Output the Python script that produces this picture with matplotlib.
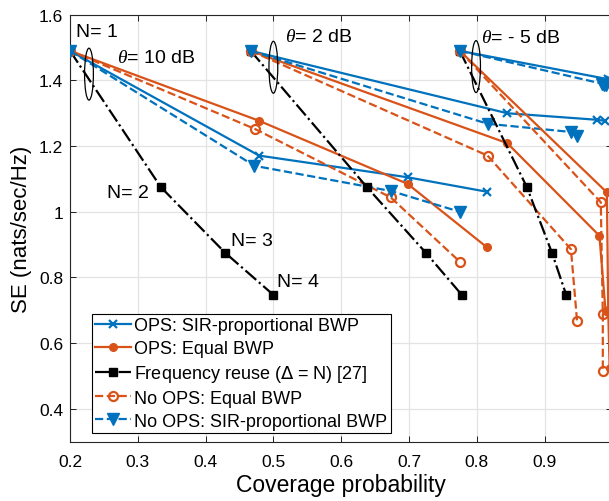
import matplotlib
matplotlib.use("Agg")
import matplotlib.pyplot as plt
from matplotlib.patches import Ellipse

plt.rcParams['font.family'] = ['Liberation Sans', 'DejaVu Sans']
plt.rcParams['mathtext.fontset'] = 'custom'
plt.rcParams['mathtext.it'] = 'Liberation Serif:italic'

BLUE = '#0072BD'
ORANGE = '#D95319'

# Each series: list of (coverage, SE) for N=1..4, for theta = 10, 2, -5 dB
thetas = ['10 dB', '2 dB', '-5 dB']

ops_sir_x = [[0.200, 0.479, 0.698, 0.815],
             [0.4665, 0.845, 0.978, 0.989],
             [0.775, 0.993, 0.997, 0.999]]
ops_sir_y = [[1.490, 1.171, 1.105, 1.061],
             [1.490, 1.300, 1.280, 1.277],
             [1.490, 1.404, 1.401, 1.399]]

ops_eq_x = [[0.200, 0.479, 0.698, 0.815],
            [0.4665, 0.845, 0.981, 0.990],
            [0.775, 0.992, 0.994, 0.996]]
ops_eq_y = [[1.490, 1.277, 1.085, 0.892],
            [1.490, 1.209, 0.927, 0.699],
            [1.490, 1.059, 0.700, 0.525]]

fr_x = [[0.200, 0.334, 0.429, 0.500],
        [0.4665, 0.638, 0.725, 0.778],
        [0.775, 0.874, 0.911, 0.932]]
fr_y = [[1.490, 1.075, 0.875, 0.747],
        [1.490, 1.075, 0.875, 0.747],
        [1.490, 1.075, 0.875, 0.747]]

nops_eq_x = [[0.200, 0.473, 0.673, 0.775],
             [0.4665, 0.816, 0.939, 0.948],
             [0.775, 0.983, 0.986, 0.986]]
nops_eq_y = [[1.490, 1.252, 1.044, 0.848],
             [1.490, 1.171, 0.886, 0.668],
             [1.490, 1.029, 0.689, 0.516]]

nops_sir_x = [[0.200, 0.472, 0.674, 0.775],
              [0.4665, 0.816, 0.939, 0.948],
              [0.775, 0.985, 0.988, 0.990]]
nops_sir_y = [[1.490, 1.140, 1.063, 1.000],
              [1.490, 1.268, 1.243, 1.230],
              [1.490, 1.390, 1.387, 1.385]]

legend_labels = ['OPS: SIR-proportional BWP', 'OPS: Equal BWP',
                 'Frequency reuse ($\\Delta$ = N) [27]',
                 'No OPS: Equal BWP', 'No OPS: SIR-proportional BWP']

xticks = [0.2, 0.3, 0.4, 0.5, 0.6, 0.7, 0.8, 0.9, 1.0]
xticklabels = ['0.2', '0.3', '0.4', '0.5', '0.6', '0.7', '0.8', '0.9', '']
yticks = [0.4, 0.6, 0.8, 1.0, 1.2, 1.4, 1.6]
yticklabels = ['0.4', '0.6', '0.8', '1', '1.2', '1.4', '1.6']

fig = plt.figure(figsize=(6.09, 5.02), dpi=100)
ax = fig.add_axes([70/609, 59.3/502, 542.3/609, 427/502])

lw = 1.6
for i in range(3):
    ax.plot(ops_sir_x[i], ops_sir_y[i], '-', color=BLUE, lw=lw, marker='x',
            ms=6, mew=1.6, label=legend_labels[0] if i == 0 else '_nolegend_', zorder=3)
    ax.plot(ops_eq_x[i], ops_eq_y[i], '-', color=ORANGE, lw=lw, marker='o',
            ms=5.5, label=legend_labels[1] if i == 0 else '_nolegend_', zorder=3)
    ax.plot(fr_x[i], fr_y[i], '-.', color='black', lw=lw, marker='s',
            ms=5.5, label=legend_labels[2] if i == 0 else '_nolegend_', zorder=3)
    ax.plot(nops_eq_x[i], nops_eq_y[i], '--', color=ORANGE, lw=lw, marker='o',
            ms=6.5, mfc='none', mew=1.6,
            label=legend_labels[3] if i == 0 else '_nolegend_', zorder=3)
    ax.plot(nops_sir_x[i], nops_sir_y[i], '--', color=BLUE, lw=lw, marker='v',
            ms=8, label=legend_labels[4] if i == 0 else '_nolegend_', zorder=3)

# ellipses
for cx, cy in [(0.228, 1.419), (0.500, 1.440), (0.799, 1.442)]:
    ax.add_patch(Ellipse((cx, cy), 0.013, 0.158, fill=False, ec='black',
                         lw=0.9, zorder=5))

fs = 14
ax.text(0.209, 1.535, 'N= 1', fontsize=fs, va='baseline')
ax.text(0.269, 1.471, r'$\theta$= 10 dB', fontsize=fs, va='center')
ax.text(0.517, 1.535, r'$\theta$= 2 dB', fontsize=fs, va='center')
ax.text(0.807, 1.532, r'$\theta$= - 5 dB', fontsize=fs, va='center')
ax.text(0.255, 1.060, 'N= 2', fontsize=fs, va='center')
ax.text(0.437, 0.912, 'N= 3', fontsize=fs, va='center')
ax.text(0.505, 0.787, 'N= 4', fontsize=fs, va='center')

ax.set_xlim(0.2, 1.0)
ax.set_ylim(0.3, 1.6)
ax.set_xticks(xticks)
ax.set_xticklabels(xticklabels)
ax.set_yticks(yticks)
ax.set_yticklabels(yticklabels)
ax.tick_params(direction='in', top=True, right=True, labelsize=12.5, length=4,
               width=0.6)
ax.tick_params(axis='x', pad=9)
ax.tick_params(axis='y', pad=5)
ax.grid(True, color='#e3e3e3', lw=0.9)
ax.set_axisbelow(True)
for s in ax.spines.values():
    s.set_linewidth(0.8)
    s.set_color('#262626')

ax.set_xlabel('Coverage probability', fontsize=16.5, labelpad=3)
ax.set_ylabel('SE (nats/sec/Hz)', fontsize=16, labelpad=5)

leg = ax.legend(loc='lower left', bbox_to_anchor=(0.040, 0.020),
                borderaxespad=0, fontsize=13, frameon=True, fancybox=False,
                edgecolor='black', framealpha=1, handlelength=2.0,
                handletextpad=0.15, labelspacing=0.32, borderpad=0.2)
leg.get_frame().set_linewidth(0.8)

fig.savefig('out.png', dpi=100)
